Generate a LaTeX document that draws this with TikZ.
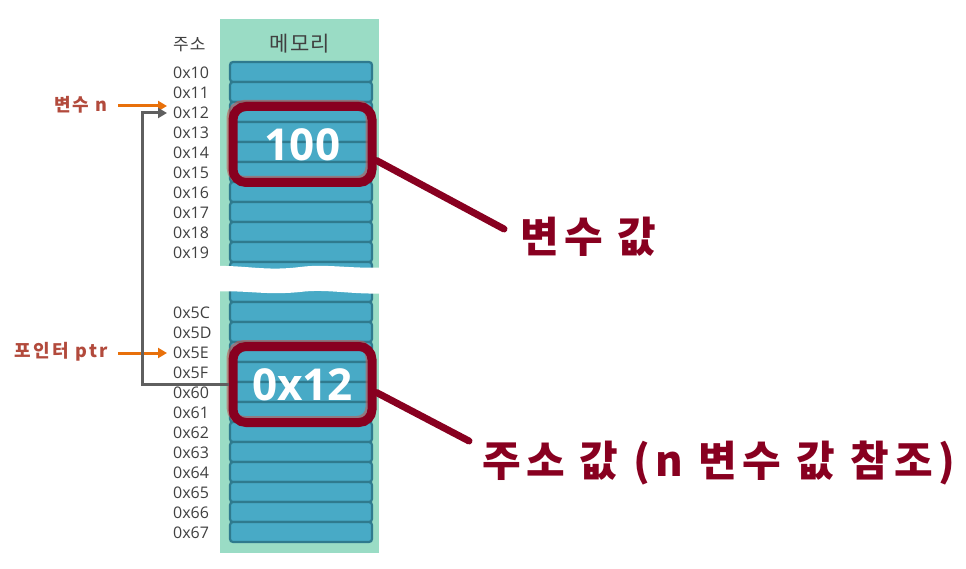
\documentclass[tikz,border=0pt]{standalone}
\usepackage{fontspec}
\setmainfont{Noto Sans CJK KR}
\newfontfamily\numfont{Open Sans}
\newfontfamily\spacedfont[LetterSpace=6]{Noto Sans CJK KR}
\newfontfamily\widefont[LetterSpace=13]{Noto Sans CJK KR}
\usetikzlibrary{arrows.meta,calc}
\definecolor{panelgreen}{HTML}{9ADCC5}
\definecolor{cellfill}{HTML}{48AAC6}
\definecolor{cellline}{HTML}{2F7A8E}
\definecolor{darkred}{HTML}{880020}
\definecolor{shadowred}{HTML}{C25A55}
\definecolor{labelred}{HTML}{B24A3C}
\definecolor{arroworange}{HTML}{E8700A}
\definecolor{conngray}{HTML}{5F5F5F}
\definecolor{addrtext}{HTML}{404040}
\tikzset{
  cellbox/.style={draw=cellline, fill=cellfill, line width=2.2pt, rounded corners=3pt},
  addr/.style={anchor=west, inner sep=0pt, text=addrtext, font=\numfont\fontsize{16}{17}\selectfont},
  redbox/.style={draw=darkred, line width=9pt, rounded corners=13pt, minimum width=139pt, minimum height=76pt, inner sep=0pt, text=white, font=\numfont\bfseries\fontsize{44}{46}\selectfont},
  shadowbox/.style={draw=shadowred, line width=9pt, rounded corners=13pt, minimum width=139pt, minimum height=76pt, inner sep=0pt},
  callout/.style={draw=darkred, line width=7pt, line cap=round},
  bigtext/.style={anchor=west, inner sep=0pt, text=darkred, font=\widefont\bfseries\fontsize{42}{44}\selectfont},
  vartext/.style={anchor=east, inner sep=0pt, text=labelred, font=\widefont\bfseries\fontsize{18}{19}\selectfont},
  orangearrow/.style={draw=arroworange, line width=3pt, -{Triangle[length=9pt,width=10pt]}},
  grayarrow/.style={draw=conngray, line width=3pt, -{Triangle[length=9pt,width=10pt]}},
}
\begin{document}
\begin{tikzpicture}[x=1pt,y=-1pt]
\useasboundingbox (0,0) rectangle (966,569);
% panel
\fill[panelgreen] (220,19) rectangle (379,553);
% cells top section
\foreach \c in {72,92,...,272} {
  \draw[cellbox] (230,\c-10) rectangle (372,\c+10);
}
% cells bottom section
\foreach \c in {292,312,...,532} {
  \draw[cellbox] (230,\c-10) rectangle (372,\c+10);
}
% break
\fill[white] (200,267)
  .. controls (240,263) and (260,272) .. (300,267)
  .. controls (330,263) and (360,271) .. (400,266)
  -- (400,292)
  .. controls (360,297) and (330,288) .. (300,292)
  .. controls (260,296) and (240,288) .. (200,293) -- cycle;
% headers
\node[anchor=west, inner sep=0pt, text=addrtext, font=\spacedfont\fontsize{17}{18}\selectfont] (hdraddr) at (173,45) {주소};
\node[inner sep=0pt, text=addrtext, font=\spacedfont\fontsize{21}{22}\selectfont] (hdrmem) at (300,44) {메모리};
% address labels
\node[addr] (a10) at (173,73) {0x10};
\node[addr] (a11) at (173,93) {0x11};
\node[addr] (a12) at (173,113) {0x12};
\node[addr] (a13) at (173,133) {0x13};
\node[addr] (a14) at (173,153) {0x14};
\node[addr] (a15) at (173,173) {0x15};
\node[addr] (a16) at (173,193) {0x16};
\node[addr] (a17) at (173,213) {0x17};
\node[addr] (a18) at (173,233) {0x18};
\node[addr] (a19) at (173,253) {0x19};
\node[addr] (a5C) at (173,313) {0x5C};
\node[addr] (a5D) at (173,333) {0x5D};
\node[addr] (a5E) at (173,353) {0x5E};
\node[addr] (a5F) at (173,373) {0x5F};
\node[addr] (a60) at (173,393) {0x60};
\node[addr] (a61) at (173,413) {0x61};
\node[addr] (a62) at (173,433) {0x62};
\node[addr] (a63) at (173,453) {0x63};
\node[addr] (a64) at (173,473) {0x64};
\node[addr] (a65) at (173,493) {0x65};
\node[addr] (a66) at (173,513) {0x66};
\node[addr] (a67) at (173,533) {0x67};
% red boxes with faint shadow
\node[shadowbox, opacity=0.6] (valshadow) at (300.5,142.5) {};
\node[shadowbox, opacity=0.6] (ptrshadow) at (300.5,382.5) {};
\node[redbox] (valbox) at (302.5,144.5) {100};
\node[redbox] (ptrbox) at (302.5,384.5) {0x12};
% callouts
\node[bigtext] (valtext) at (520,237) {변수 값};
\node[bigtext] (addrtext) at (482,463) {주소 값 (n 변수 값 참조)};
\coordinate (valend) at (504,229);
\coordinate (addrend) at (469,441);
\draw[callout] (valbox.east) ++(0,16) -- (valend);
\draw[callout] (ptrbox.east) ++(0,8) -- (addrend);
% variable labels
\node[vartext] (nvar) at (108,105) {변수 n};
\node[vartext] (ptrvar) at (108,352) {포인터 ptr};
\coordinate (nend) at (167,106);
\coordinate (ptrend) at (167,353);
\draw[orangearrow] (nvar.east) ++(10,1) -- (nend);
\draw[orangearrow] (ptrvar.east) ++(10,1) -- (ptrend);
% pointer connector
\coordinate (bend) at (142,113);
\draw[grayarrow] (ptrbox.west) -| (bend) -- ($(a12.west)+(-6,0)$);
\end{tikzpicture}
\end{document}
